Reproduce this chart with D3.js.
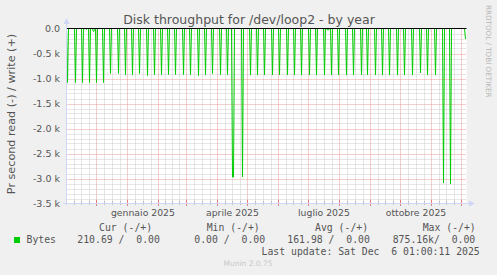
<!DOCTYPE html>
<html>
<head>
<meta charset="utf-8">
<script src="https://cdn.jsdelivr.net/npm/d3@7"></script>
<style>
  html, body { margin: 0; padding: 0; background: #f0f0f0; }
  svg { display: block; }
  text { font-family: "DejaVu Sans", sans-serif; fill: #555; }
  .mono { font-family: "DejaVu Sans Mono", monospace; white-space: pre; }
</style>
</head>
<body>
<svg id="chart"></svg>
<script>
const W = 497;
const H = 275;

// periodo del grafico (400 giorni, fine = ultimo aggiornamento)
const startDate = new Date(2024, 10, 1, 1, 0, 11);
const endDate = new Date(2025, 11, 6, 1, 0, 11);

// picchi di lettura: giorno dall'inizio, valore in k (negativo = read)
const spikeDay = [1, 9, 16, 23, 30, 37, 44, 52, 59, 66, 73, 81, 88, 95, 102, 109, 117, 124, 132, 139,
  146, 154, 161, 166, 167, 176, 184, 191, 198, 206, 213, 221, 228, 235, 243, 250, 258, 265, 272, 280,
  287, 295, 301, 309, 316, 323, 331, 338, 346, 354, 361, 369, 377, 384];
const spikeK = [-1.08, -1.08, -1.08, -1.08, -1.08, -1.08, -0.9, -0.9, -0.92, -0.92, -0.9, -0.94, -0.92, -0.92, -0.92, -0.92, -0.92, -0.92, -0.94, -0.92,
  -0.9, -0.92, -0.92, -2.97, -2.97, -2.97, -0.93, -0.93, -0.93, -0.93, -0.93, -0.93, -0.93, -0.93, -0.93, -0.93, -0.93, -0.93, -0.93, -0.93,
  -0.93, -0.93, -0.93, -0.93, -0.93, -0.93, -0.93, -0.93, -0.93, -0.89, -0.93, -0.93, -3.09, -3.11];
// piccole attività vicino allo zero
const smallDay = [20, 27, 28, 261, 262, 399];
const smallK = [-0.02, -0.06, -0.04, -0.03, -0.03, -0.21];

const yTicks = [0, -0.5, -1.0, -1.5, -2.0, -2.5, -3.0, -3.5];
const yTickLabels = ["0.0", "-0.5 k", "-1.0 k", "-1.5 k", "-2.0 k", "-2.5 k", "-3.0 k", "-3.5 k"];
const xLabelMonths = [new Date(2025, 0, 1), new Date(2025, 3, 1), new Date(2025, 6, 1), new Date(2025, 9, 1)];
const xLabels = ["gennaio 2025", "aprile 2025", "luglio 2025", "ottobre 2025"];

const legendHeads = ["Cur (-/+)", "Min (-/+)", "Avg (-/+)", "Max (-/+)"];
const legendVals = ["210.69 /  0.00", "0.00 /  0.00", "161.98 /  0.00", "875.16k/  0.00"];

const GREEN = "#00cc00";

const svg = d3.select("#chart").attr("width", W).attr("height", H);

const x = d3.scaleTime().domain([startDate, endDate]).range([66.5, 466.5]);
const y = d3.scaleLinear().domain([-3.5, 0]).range([203.5, 28.5]);

// area del grafico
svg.append("rect")
  .attr("x", 66.5).attr("y", 28.5)
  .attr("width", 400).attr("height", 175)
  .attr("fill", "#ffffff");

// griglia orizzontale secondaria (0.1 k)
const minorY = d3.range(1, 35).map(i => -i / 10).filter(v => Math.abs(v * 2 - Math.round(v * 2)) > 1e-6);
svg.append("g").selectAll("line")
  .data(minorY).enter().append("line")
  .attr("x1", 66.5).attr("x2", 466.5)
  .attr("y1", d => Math.round(y(d)) + 0.5).attr("y2", d => Math.round(y(d)) + 0.5)
  .attr("stroke", "#cccccc").attr("stroke-dasharray", "1,1");

// griglia verticale secondaria (quarti di mese)
const months = d3.timeMonth.range(d3.timeMonth.floor(startDate), endDate);
const minorX = [];
months.forEach(m => {
  const next = d3.timeMonth.offset(m, 1);
  for (let k = 1; k < 4; k++) {
    const t = new Date(+m + (next - m) * k / 4);
    if (t > startDate && t < endDate) minorX.push(t);
  }
});
svg.append("g").selectAll("line")
  .data(minorX).enter().append("line")
  .attr("x1", d => Math.round(x(d)) + 0.5).attr("x2", d => Math.round(x(d)) + 0.5)
  .attr("y1", 28.5).attr("y2", 203.5)
  .attr("stroke", "#cccccc").attr("stroke-dasharray", "1,1");

// griglia principale
const majorX = months.filter(m => m > startDate);
svg.append("g").selectAll("line")
  .data(majorX).enter().append("line")
  .attr("x1", d => Math.round(x(d)) + 0.5).attr("x2", d => Math.round(x(d)) + 0.5)
  .attr("y1", 28.5).attr("y2", 203.5)
  .attr("stroke", "#e89a9a").attr("stroke-dasharray", "1,1");
svg.append("g").selectAll("line")
  .data(yTicks.slice(1, -1)).enter().append("line")
  .attr("x1", 66.5).attr("x2", 466.5)
  .attr("y1", d => Math.round(y(d)) + 0.5).attr("y2", d => Math.round(y(d)) + 0.5)
  .attr("stroke", "#e89a9a").attr("stroke-dasharray", "1,1");

// tacche sugli assi
svg.append("g").selectAll("line")
  .data(minorX).enter().append("line")
  .attr("x1", d => Math.round(x(d)) + 0.5).attr("x2", d => Math.round(x(d)) + 0.5)
  .attr("y1", 201).attr("y2", 205).attr("stroke", "#c0c0c0");
svg.append("g").selectAll("line")
  .data(majorX).enter().append("line")
  .attr("x1", d => Math.round(x(d)) + 0.5).attr("x2", d => Math.round(x(d)) + 0.5)
  .attr("y1", 200).attr("y2", 206).attr("stroke", "#e08080");

// serie giornaliera read (-)
const readSeries = d3.range(0, 400).map(d => {
  let i = spikeDay.indexOf(d);
  if (i >= 0) return { day: d, v: spikeK[i] };
  i = smallDay.indexOf(d);
  if (i >= 0) return { day: d, v: smallK[i] };
  return { day: d, v: 0 };
});

const line = d3.line()
  .x(d => x(d3.timeDay.offset(startDate, d.day)))
  .y(d => y(d.v));

svg.append("path")
  .datum(readSeries)
  .attr("d", line)
  .attr("fill", "none")
  .attr("stroke", GREEN)
  .attr("stroke-width", 1);

// linea zero
svg.append("line")
  .attr("x1", 66.5).attr("x2", 466.5)
  .attr("y1", y(0)).attr("y2", y(0))
  .attr("stroke", "#000").attr("stroke-width", 1);

// assi con frecce
const AX = "#cfd6f8";
svg.append("line").attr("x1", 66.5).attr("x2", 66.5).attr("y1", 205).attr("y2", 22).attr("stroke", AX);
svg.append("line").attr("x1", 63).attr("x2", 470).attr("y1", 203.5).attr("y2", 203.5).attr("stroke", AX);
svg.append("path").attr("d", "M63.5,24 L66.5,18 L69.5,24 Z").attr("fill", AX);
svg.append("path").attr("d", "M469,200.5 L475,203.5 L469,206.5 Z").attr("fill", AX);

// etichette asse Y
svg.append("g").selectAll("text")
  .data(yTicks).enter().append("text")
  .attr("x", 60).attr("y", d => y(d) + 3.5)
  .attr("text-anchor", "end")
  .attr("font-size", "9.5px")
  .text((d, i) => yTickLabels[i]);

// etichette asse X (centrate a metà mese)
svg.append("g").selectAll("text")
  .data(xLabelMonths).enter().append("text")
  .attr("x", d => (x(d) + x(d3.timeMonth.offset(d, 1))) / 2)
  .attr("y", 216)
  .attr("text-anchor", "middle")
  .attr("font-size", "9.3px")
  .text((d, i) => xLabels[i]);

// titolo
svg.append("text")
  .attr("x", 249).attr("y", 24)
  .attr("text-anchor", "middle")
  .attr("font-size", "12.5px")
  .text("Disk throughput for /dev/loop2 - by year");

// etichetta verticale
svg.append("text")
  .attr("transform", "translate(15,114) rotate(-90)")
  .attr("text-anchor", "middle")
  .attr("font-size", "11.2px")
  .text("Pr second read (-) / write (+)");

svg.append("text")
  .attr("transform", "translate(486,5) rotate(90)")
  .attr("font-size", "7.2px")
  .style("fill", "#b8b8b8")
  .text("RRDTOOL / TOBI OETIKER");

// legenda
const headX = [99, 206.7, 315, 422.7];
const valX = [77.3, 194.3, 287.3, 392.7];
svg.append("g").selectAll("text")
  .data(legendHeads).enter().append("text")
  .attr("class", "mono")
  .attr("x", (d, i) => headX[i]).attr("y", 231)
  .attr("font-size", "9.8px")
  .text(d => d);
svg.append("rect")
  .attr("x", 14).attr("y", 237).attr("width", 6).attr("height", 6)
  .attr("fill", GREEN);
svg.append("text")
  .attr("class", "mono")
  .attr("x", 26.5).attr("y", 243)
  .attr("font-size", "9.8px")
  .text("Bytes");
svg.append("g").selectAll("text")
  .data(legendVals).enter().append("text")
  .attr("class", "mono")
  .attr("x", (d, i) => valX[i]).attr("y", 243)
  .attr("font-size", "9.8px")
  .text(d => d);
svg.append("text")
  .attr("class", "mono")
  .attr("x", 261.5).attr("y", 255)
  .attr("font-size", "9.8px")
  .text("Last update: Sat Dec  6 01:00:11 2025");

svg.append("text")
  .attr("x", 248).attr("y", 266)
  .attr("text-anchor", "middle")
  .attr("font-size", "7.5px")
  .style("fill", "#c8c8c8")
  .text("Munin 2.0.75");
</script>
</body>
</html>
